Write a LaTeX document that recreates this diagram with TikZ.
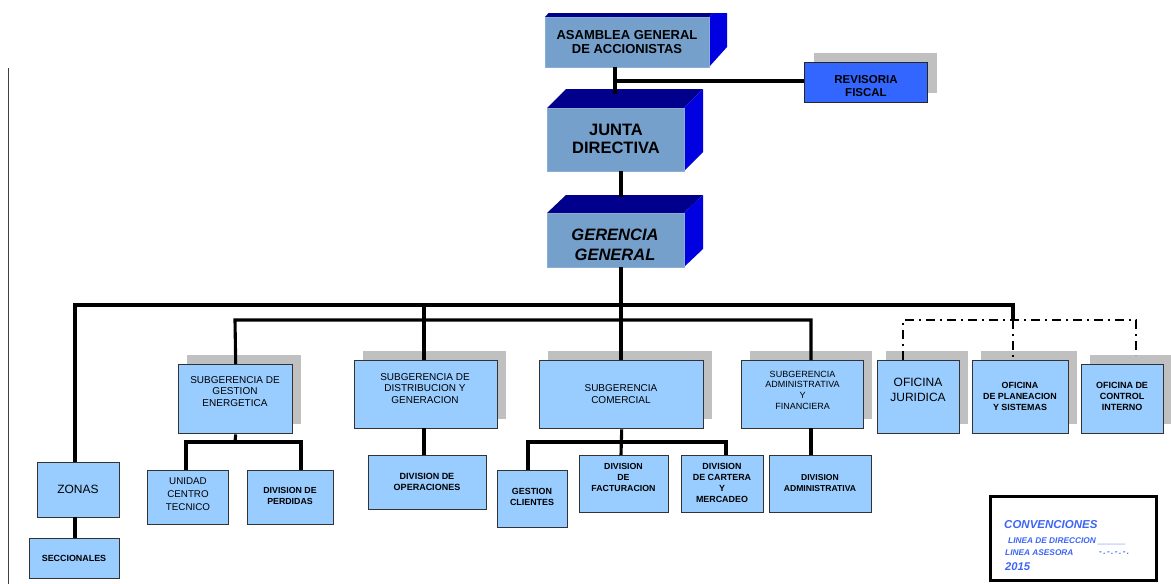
\documentclass[tikz,border=0pt]{standalone}
\usepackage{fontspec}
\setmainfont{Liberation Sans}
\definecolor{boxblue}{RGB}{153,204,255}
\definecolor{shadowgray}{RGB}{192,192,192}
\definecolor{cubefront}{RGB}{118,160,204}
\definecolor{cubetop}{RGB}{0,0,140}
\definecolor{cubeside}{RGB}{0,0,225}
\definecolor{revblue}{RGB}{51,102,255}
\definecolor{convblue}{RGB}{60,100,245}
\newcommand\fs[2]{\fontsize{#1}{#2}\selectfont}
\tikzset{
  lbox/.style={draw=black!80, line width=1.4pt, fill=boxblue, inner sep=0pt, anchor=north west},
  frontbox/.style={draw=cubefront!85!white, line width=0.6pt, fill=cubefront, inner sep=0pt, anchor=north west},
  shad/.style={fill=shadowgray},
  conn/.style={line width=3.1pt, draw=black, line join=miter},
  advice/.style={line width=2.3pt, draw=black, dash pattern=on 9pt off 5pt on 2pt off 5pt},
  lbl/.style={align=center, inner sep=0pt, text=black},
  convtxt/.style={anchor=west, inner sep=0pt, text=convblue, font=\bfseries\itshape},
}
\newcommand\shbox[5]{%
  \fill[shad] (#2+9,#3-9) rectangle (#4+9,#5-9);
  \node[lbox, minimum width={#4-#2}, minimum height={#5-#3}] (#1) at (#2,#3) {};}
\begin{document}
\begin{tikzpicture}[x=1pt,y=-1pt]
\useasboundingbox (0,0) rectangle (1171,584);

% left margin line
\draw[line width=1pt, black!75] (8,68) -- (8,584);

% ---- 3D boxes ----
\begin{scope}
  \clip (0,13) rectangle (1171,584);
  \fill[cubetop] (545,17) -- (709,17) -- (727,-3) -- (563,-3) -- cycle;
  \fill[cubeside] (709,17) -- (727,-3) -- (727,47) -- (709,67) -- cycle;
\end{scope}
\node[frontbox, minimum width=164, minimum height=50] (asamblea) at (545,17) {};
\node[lbl, font=\bfseries\fs{13}{14}] (t-asamblea) at (627,42) {ASAMBLEA GENERAL\\DE ACCIONISTAS};

\fill[cubetop] (547,108) -- (684,108) -- (703,89) -- (566,89) -- cycle;
\fill[cubeside] (684,108) -- (703,89) -- (703,152) -- (684,171) -- cycle;
\node[frontbox, minimum width=137, minimum height=63] (junta) at (547,108) {};
\node[lbl, font=\bfseries\fs{16.5}{18.5}] (t-junta) at (616,139) {JUNTA\\DIRECTIVA};

\fill[cubetop] (547,213) -- (684,213) -- (703,195) -- (566,195) -- cycle;
\fill[cubeside] (684,213) -- (703,195) -- (703,249) -- (684,267) -- cycle;
\node[frontbox, minimum width=137, minimum height=54] (gerencia) at (547,213) {};
\node[lbl, font=\bfseries\itshape\fs{16.5}{20}] (t-gerencia) at (615,245) {GERENCIA\\GENERAL};

% ---- Revisoria ----
\fill[shad] (814,53) rectangle (937,93);
\node[draw=black!85, line width=1.4pt, fill=revblue, inner sep=0pt, anchor=north west,
      minimum width=123, minimum height=40] (revisoria) at (804,62) {};
\node[lbl, font=\bfseries\fs{11.5}{13}] (t-revisoria) at (866,86.5) {REVISORIA\\FISCAL};

% ---- second level ----
\shbox{gestion}{178}{364}{292}{433}
\node[lbl, font=\fs{10}{11.5}] (t-gestion) at (235,391.5) {SUBGERENCIA DE\\GESTION\\ENERGETICA};
\shbox{distrib}{354}{360}{497}{428}
\node[lbl, font=\fs{10}{11.5}] (t-distrib) at (425,388.5) {SUBGERENCIA DE\\DISTRIBUCION Y\\GENERACION};
\shbox{comercial}{539}{360}{703}{428}
\node[lbl, font=\fs{10}{12}] (t-comercial) at (621,394) {SUBGERENCIA\\COMERCIAL};
\shbox{admin}{741}{360}{863}{428}
\node[lbl, font=\fs{9}{10.7}] (t-admin) at (802.5,390) {SUBGERENCIA\\ADMINISTRATIVA\\Y\\FINANCIERA};
\shbox{juridica}{877}{360}{959}{433}
\node[lbl, font=\fs{12}{15}] (t-juridica) at (918,389.5) {OFICINA\\JURIDICA};
\shbox{planeacion}{972}{360}{1068}{433}
\node[lbl, font=\bfseries\fs{8.9}{11}] (t-planeacion) at (1020,396) {OFICINA\\DE PLANEACION\\Y SISTEMAS};
\shbox{control}{1081}{364}{1163}{433}
\node[lbl, font=\bfseries\fs{9}{11}] (t-control) at (1122,396) {OFICINA DE\\CONTROL\\INTERNO};

% ---- third level ----
\node[lbox, minimum width=82, minimum height=55] (zonas) at (37,462) {};
\node[lbl, font=\fs{12}{14}] (t-zonas) at (78,489) {ZONAS};
\node[lbox, minimum width=90, minimum height=40] (seccionales) at (29,538) {};
\node[lbl, font=\bfseries\fs{8.9}{11}] (t-seccionales) at (74,558) {SECCIONALES};
\node[lbox, minimum width=81, minimum height=54] (unidad) at (147,470) {};
\node[lbl, font=\fs{9.8}{13}] (t-unidad) at (188,494) {UNIDAD\\CENTRO\\TECNICO};
\node[lbox, minimum width=86, minimum height=54] (perdidas) at (247,470) {};
\node[lbl, font=\bfseries\fs{8.8}{11}] (t-perdidas) at (290,496) {DIVISION DE\\PERDIDAS};
\node[lbox, minimum width=118, minimum height=54] (operaciones) at (368,455) {};
\node[lbl, font=\bfseries\fs{9}{11}] (t-operaciones) at (427,481.5) {DIVISION DE\\OPERACIONES};
\node[lbox, minimum width=70, minimum height=57] (clientes) at (497,470) {};
\node[lbl, font=\bfseries\fs{8.9}{11}] (t-clientes) at (532,497) {GESTION\\CLIENTES};
\node[lbox, minimum width=89, minimum height=57] (facturacion) at (579,455) {};
\node[lbl, font=\bfseries\fs{8.8}{11}] (t-facturacion) at (623.5,477) {DIVISION\\DE\\FACTURACION};
\node[lbox, minimum width=82, minimum height=57] (cartera) at (681,455) {};
\node[lbl, font=\bfseries\fs{8.9}{11}] (t-cartera) at (722,482.5) {DIVISION\\DE CARTERA\\Y\\MERCADEO};
\node[lbox, minimum width=102, minimum height=57] (divadmin) at (769,455) {};
\node[lbl, font=\bfseries\fs{8.6}{10.5}] (t-divadmin) at (820,483) {DIVISION\\ADMINISTRATIVA};

% ---- connectors: top ----
\draw[conn] (615,67) -- (615,94);
\draw[conn] (615,81) -- (615,81 -| revisoria.west);
\draw[conn] (621,171) -- (621,197);
\draw[conn] (621,267) -- (621,267 |- comercial.north);
% main bar
\draw[conn] (75,305 |- zonas.north) -- (75,305) -- (1013,305) -- (1013,320);
\draw[conn] (424,305) -- (424,305 |- distrib.north);
% second bar
\draw[conn] (gestion.north) -- (235,320) -- (811,320) -- (811,320 |- admin.north);
% advisory (dash-dot)
\draw[advice] (903,320 |- juridica.north) -- (903,320) -- (1136,320) -- (1136,355);
\draw[advice] (1013,320) -- (1013,320 |- planeacion.north);

% ---- connectors: lower ----
\draw[conn] (gestion.south) -- (235,442);
\draw[conn] (186,442 |- unidad.north) -- (186,442) -- (301,442) -- (301,442 |- perdidas.north);
\draw[conn] (424,428) -- (424,428 |- operaciones.north);
\draw[conn] (comercial.south) -- (621,442 |- facturacion.north);
\draw[conn] (528,442 |- clientes.north) -- (528,442) -- (726,442) -- (726,442 |- cartera.north);
\draw[conn] (811,428) -- (811,428 |- divadmin.north);
\draw[conn] (75,517) -- (75,517 |- seccionales.north);

% ---- conventions ----
\node[draw=black, line width=3pt, inner sep=0pt, anchor=north west,
      minimum width=166, minimum height=84] (conv) at (989,495) {};
\node[convtxt, font=\bfseries\itshape\fs{11.5}{13}] (c1) at (1004,525) {CONVENCIONES};
\node[convtxt, font=\bfseries\itshape\fs{8.3}{10}] (c2) at (1008,541) {LINEA DE DIRECCION {\fs{10}{10}\_\_\_\_\_}};
\node[convtxt, font=\bfseries\itshape\fs{8.3}{10}] (c3) at (1005,553) {LINEA ASESORA};
\node[convtxt, font=\bfseries\itshape\fs{8.3}{10}] (c4) at (1099,553) {-\kern1.4pt.\kern1.4pt-\kern1.4pt.\kern1.4pt-\kern1.4pt.\kern1.4pt-\kern1.4pt.};
\node[convtxt, font=\bfseries\itshape\fs{11.2}{13}] (c5) at (1005,567) {2015};
\end{tikzpicture}
\end{document}
